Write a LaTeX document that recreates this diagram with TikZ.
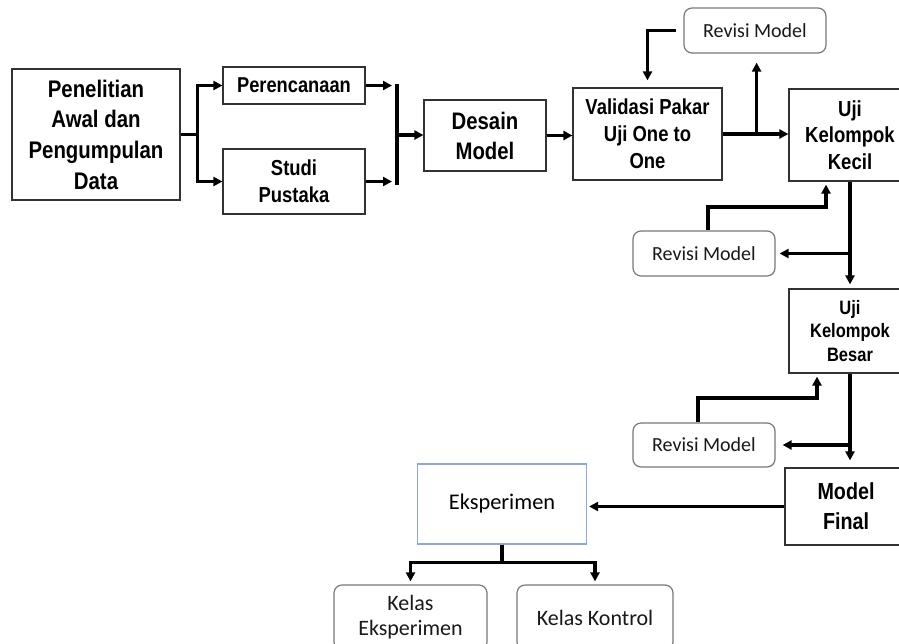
\documentclass[tikz,border=0pt]{standalone}
\usepackage{fontspec}
\newfontfamily\nb{Liberation Sans}[FakeStretch=0.85]
\newfontfamily\carl{Carlito}
\usetikzlibrary{arrows.meta,calc}
\definecolor{boxgray}{RGB}{50,50,50}
\definecolor{rgray}{RGB}{120,120,120}
\definecolor{eksblue}{RGB}{140,170,205}
\tikzset{
  bbox/.style={draw=boxgray, line width=1.2pt, fill=white, inner sep=0pt, align=center, text=black},
  rbox/.style={draw=rgray, line width=1.2pt, rounded corners=8pt, fill=white, inner sep=0pt, align=center, text=black!90},
  conn/.style={line width=3.2pt, draw=black},
  arr/.style={conn, -{Triangle[length=9pt,width=9pt]}},
}
\newcommand{\bfnt}[2]{\nb\bfseries\fontsize{#1}{#2}\selectfont}
\newcommand{\cfnt}[2]{\carl\fontsize{#1}{#2}\selectfont}
\begin{document}
\begin{tikzpicture}[x=1pt,y=-1pt]
\useasboundingbox (0,0) rectangle (899,643);
\clip (0,0) rectangle (899,643);
\fill[white] (0,0) rectangle (899,643);
% nodes
\node[bbox, minimum width=168pt, minimum height=131pt, font=\bfnt{24}{30.7}] (pen) at (96,134.5) {Penelitian\\Awal dan\\Pengumpulan\\Data};
\node[bbox, minimum width=142pt, minimum height=37pt, font=\bfnt{21.5}{26}] (per) at (294,85.5) {Perencanaan};
\node[bbox, minimum width=142pt, minimum height=65pt, font=\bfnt{21.7}{26.7}] (stu) at (294,181.5) {Studi\\Pustaka};
\node[bbox, minimum width=122pt, minimum height=71pt, font=\bfnt{23.9}{30}] (des) at (485,135.5) {Desain\\Model};
\node[bbox, minimum width=149pt, minimum height=92pt, font=\bfnt{21.7}{27}] (val) at (647.5,134) {Validasi Pakar\\Uji One to\\One};
\node[bbox, minimum width=122pt, minimum height=92pt, font=\bfnt{21.8}{26.7}] (ukk) at (850,135) {Uji\\Kelompok\\Kecil};
\node[rbox, minimum width=142pt, minimum height=45pt, font=\cfnt{20}{24}] (rv1) at (755,30.5) {Revisi Model};
\node[bbox, minimum width=122pt, minimum height=84pt, font=\bfnt{19.4}{23.7}] (ukb) at (850,331) {Uji\\Kelompok\\Besar};
\node[rbox, minimum width=142pt, minimum height=45pt, font=\cfnt{20}{24}] (rv2) at (704,253.5) {Revisi Model};
\node[rbox, minimum width=142pt, minimum height=44pt, font=\cfnt{20}{24}] (rv3) at (704,445) {Revisi Model};
\node[bbox, minimum width=122pt, minimum height=77pt, font=\bfnt{23.2}{30}] (mf) at (846,506.5) {Model\\Final};
\node[bbox, draw=eksblue, minimum width=169pt, minimum height=80pt, font=\cfnt{22.4}{26}] (eks) at (502,504) {Eksperimen};
\node[rbox, minimum width=153pt, minimum height=65pt, font=\cfnt{22}{25}] (ke) at (410.5,617.5) {Kelas\\Eksperimen};
\node[rbox, minimum width=156pt, minimum height=65pt, font=\cfnt{22}{25}] (kk) at (595,617.5) {Kelas Kontrol};
% connectors
\coordinate (s1) at ($(pen.east)+(17,0)$);
\draw[conn] (pen.east) -- (s1);
\draw[arr] (s1) |- (per.west);
\draw[arr] (s1) |- (stu.west);
\coordinate (bar) at (397,135);
\draw[arr, shorten >=5pt] (per.east) -- (per.east -| bar);
\draw[arr, shorten >=5pt] (stu.east) -- (stu.east -| bar);
\draw[conn] ([yshift=2pt]bar |- per.east) -- ([yshift=-3pt]bar |- stu.east);
\draw[arr] (bar) -- (bar -| des.west);
\draw[arr] (des.east) -- (des.east -| val.west);
\draw[arr] (val.east) -- (val.east -| ukk.west);
\coordinate (b1) at ($(val.east)+(34,0)$);
\draw[arr, shorten >=9pt] (b1) -- (b1 |- rv1.south);
\draw[arr, shorten <=7pt, shorten >=7pt] (rv1.west) -| (val.north);
\draw[arr, shorten >=4pt] (ukk.south) -- (ukb.north);
\draw[arr, shorten >=4pt] (ukk.south |- rv2.east) -- (rv2.east);
\coordinate (k2) at (826,207);
\draw[arr, shorten >=3pt] ([xshift=4pt]rv2.north) |- (k2) -- (k2 |- ukk.south);
\draw[arr, shorten >=7pt] (ukb.south) -- (ukb.south |- mf.north);
\draw[arr, shorten >=7pt] (ukb.south |- rv3.east) -- (rv3.east);
\coordinate (k3) at (817,398);
\draw[arr, shorten >=3pt] ([xshift=-6pt]rv3.north) |- (k3) -- (k3 |- ukb.south);
\draw[arr, shorten >=2pt] (mf.west) -- (mf.west -| eks.east);
\draw[arr, shorten >=3pt] (eks.south) -- ++(0,18) -| (ke.north);
\draw[arr, shorten >=3pt] (eks.south) -- ++(0,18) -| (kk.north);
\end{tikzpicture}
\end{document}
